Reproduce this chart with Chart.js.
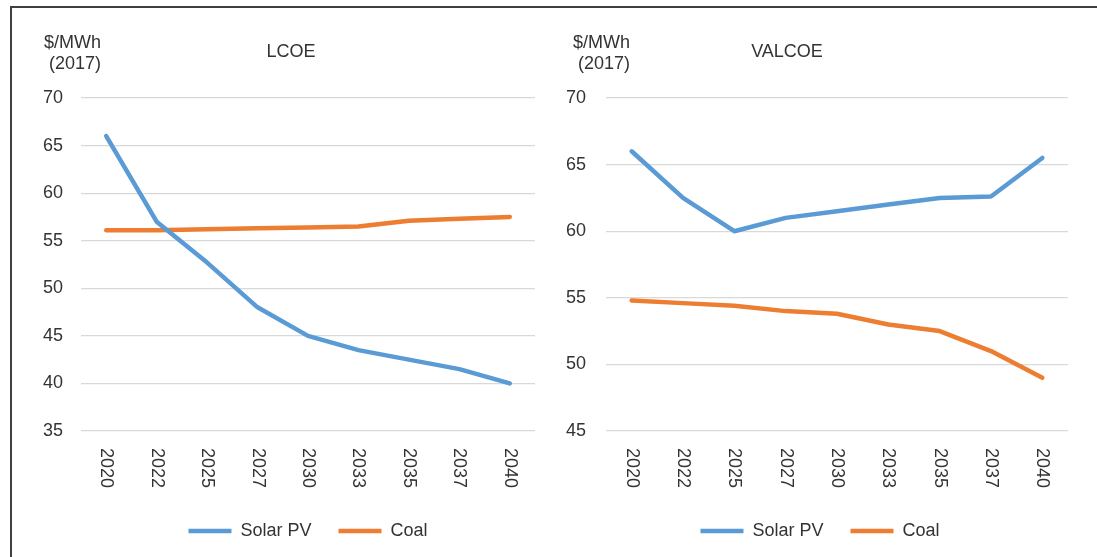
<!DOCTYPE html>
<html>
<head>
<meta charset="utf-8">
<title>LCOE vs VALCOE</title>
<script src="https://cdn.jsdelivr.net/npm/chart.js@4.4.1/dist/chart.umd.min.js"></script>
<style>
    html, body { margin: 0; padding: 0; background: #fff; overflow: hidden; }
    body { width: 1097px; height: 557px; position: relative; font-family: "Liberation Sans", Arial, sans-serif; color: #333; }
    .frame { position: absolute; left: 10px; top: 6px; width: 1200px; height: 700px; border-left: 2px solid #404040; border-top: 2px solid #404040; }
    canvas { position: absolute; top: 0; }
    .unit { position: absolute; top: 32px; width: 90px; text-align: right; font-size: 18px; line-height: 21px; }
    .title { position: absolute; top: 41px; font-size: 18px; line-height: 21px; transform: translateX(-50%); white-space: nowrap; }
</style>
</head>
<body>
<div class="frame"></div>
<canvas id="lcoeChart" width="548" height="557" style="left:0"></canvas>
<canvas id="valcoeChart" width="549" height="557" style="left:548px"></canvas>
<div class="unit" style="left:11px">$/MWh<br>(2017)</div>
<div class="title" style="left:291px">LCOE</div>
<div class="unit" style="left:540px">$/MWh<br>(2017)</div>
<div class="title" style="left:787px">VALCOE</div>

<script>
// Veriler
const years = ['2020', '2022', '2025', '2027', '2030', '2033', '2035', '2037', '2040'];
const lcoeSolar = [66, 57, 52.7, 48, 45, 43.5, 42.5, 41.5, 40];
const lcoeCoal = [56.1, 56.1, 56.2, 56.3, 56.4, 56.5, 57.1, 57.3, 57.5];
const valcoeSolar = [66, 62.5, 60, 61, 61.5, 62, 62.5, 62.6, 65.5];
const valcoeCoal = [54.8, 54.6, 54.4, 54.0, 53.8, 53.0, 52.5, 51.0, 49.0];
const lcoeRange = [35, 70];
const valcoeRange = [45, 70];
const tickStep = 5;

const blue = '#5B9BD5';
const orange = '#ED7D31';
const textColor = '#333333';
const fontFamily = '"Liberation Sans", Arial, sans-serif';

Chart.defaults.font.family = fontFamily;
Chart.defaults.color = textColor;

// Yıl etiketleri yukarıdan aşağıya okunacak şekilde (saat yönünde) çiziliyor
const verticalYearLabels = {
    id: 'verticalYearLabels',
    afterDraw(chart) {
        const xScale = chart.scales.x;
        const ctx = chart.ctx;
        ctx.save();
        ctx.fillStyle = textColor;
        ctx.font = '18px ' + fontFamily;
        ctx.textAlign = 'left';
        ctx.textBaseline = 'middle';
        xScale.ticks.forEach((tick, i) => {
            const x = xScale.getPixelForTick(i);
            ctx.save();
            ctx.translate(x, chart.chartArea.bottom + 17);
            ctx.rotate(Math.PI / 2);
            ctx.fillText(xScale.getLabelForValue(tick.value), 0, 0);
            ctx.restore();
        });
        ctx.restore();
    }
};

// Lejandı yatayda kaydırmak için
const legendShift = {
    id: 'legendShift',
    beforeDraw(chart, args, options) {
        const shift = options.shift || 0;
        if (chart.legend && shift && !chart.legend._shifted) {
            chart.legend.left += shift;
            chart.legend.right += shift;
            chart.legend._shifted = true;
        }
    }
};

function lineDataset(label, data, color) {
    return {
        label: label,
        data: data,
        borderColor: color,
        backgroundColor: color,
        borderWidth: 4.5,
        borderCapStyle: 'round',
        borderJoinStyle: 'round',
        pointRadius: 0,
        pointStyle: 'line',
        tension: 0,
        fill: false
    };
}

function makeChart(canvasId, solar, coal, range, opts) {
    return new Chart(document.getElementById(canvasId), {
        type: 'line',
        data: {
            labels: years,
            datasets: [
                lineDataset('Solar PV', solar, blue),
                lineDataset('Coal', coal, orange)
            ]
        },
        options: {
            responsive: false,
            animation: false,
            layout: { padding: opts.padding },
            plugins: {
                title: { display: false },
                tooltip: { enabled: false },
                legendShift: { shift: opts.legendShift },
                legend: {
                    position: 'bottom',
                    fullSize: false,
                    labels: {
                        usePointStyle: true,
                        pointStyle: 'line',
                        pointStyleWidth: 43,
                        padding: 27,
                        color: textColor,
                        font: { size: 18 }
                    }
                }
            },
            scales: {
                x: {
                    offset: true,
                    grid: { display: false },
                    border: { display: false },
                    ticks: { display: false },
                    afterFit(scale) { scale.height = opts.xHeight; }
                },
                y: {
                    min: range[0],
                    max: range[1],
                    ticks: { stepSize: tickStep, padding: opts.tickPad, color: textColor, font: { size: 18 } },
                    grid: { color: '#d9d9d9', lineWidth: 1.2, drawTicks: false },
                    border: { display: false },
                    afterFit(scale) { scale.width = opts.yWidth; }
                }
            }
        },
        plugins: [verticalYearLabels, legendShift]
    });
}

makeChart('lcoeChart', lcoeSolar, lcoeCoal, lcoeRange, {
    padding: { left: 21, right: 13, top: 98, bottom: 7 },
    yWidth: 60, tickPad: 18, xHeight: 64, legendShift: 0
});

makeChart('valcoeChart', valcoeSolar, valcoeCoal, valcoeRange, {
    padding: { left: 8, right: 29, top: 98, bottom: 7 },
    yWidth: 50, tickPad: 20, xHeight: 64, legendShift: -17
});
</script>
</body>
</html>
